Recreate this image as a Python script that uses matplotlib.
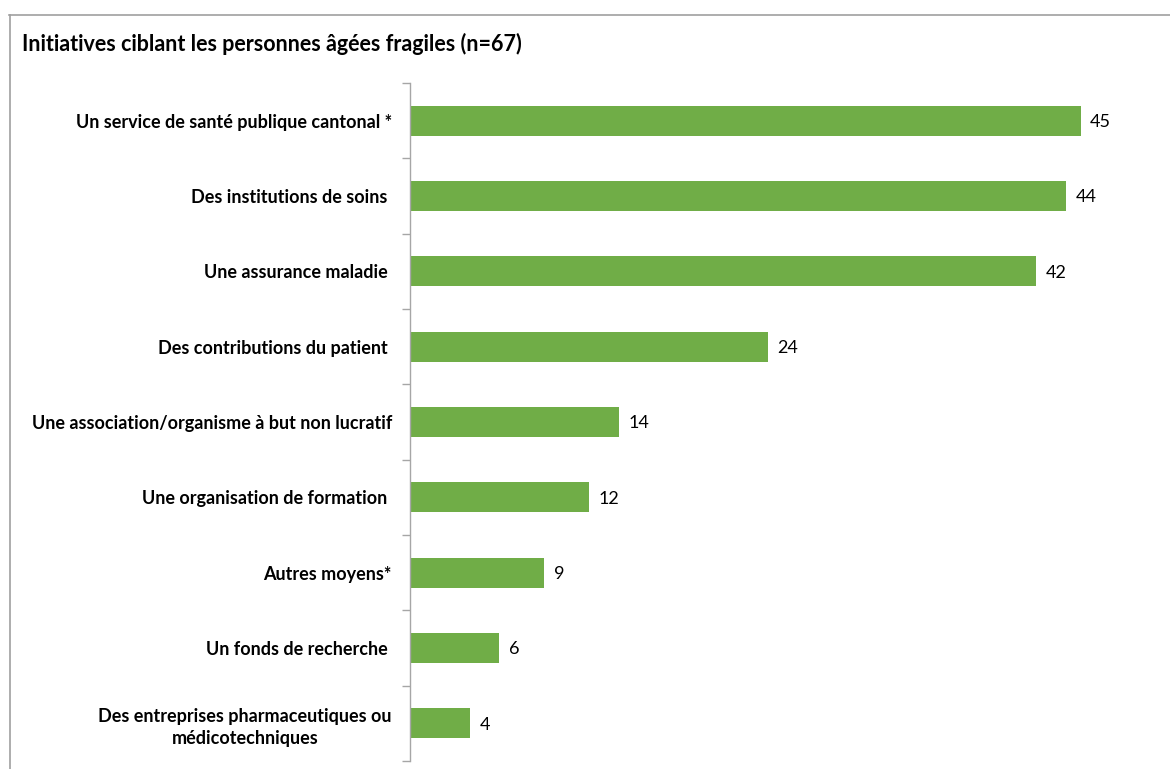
import matplotlib
matplotlib.use("Agg")
import matplotlib.pyplot as plt
from matplotlib.lines import Line2D

plt.rcParams['font.family'] = ['Lato', 'DejaVu Sans']

title = "Initiatives ciblant les personnes âgées fragiles (n=67)"
categories = [
    "Un service de santé publique cantonal *",
    "Des institutions de soins ",
    "Une assurance maladie ",
    "Des contributions du patient ",
    "Une association/organisme à but non lucratif",
    "Une organisation de formation ",
    "Autres moyens*",
    "Un fonds de recherche ",
    "Des entreprises pharmaceutiques ou\nmédicotechniques",
]
values = [45, 44, 42, 24, 14, 12, 9, 6, 4]

W, H = 1170, 769
fig = plt.figure(figsize=(W / 100, H / 100), dpi=100)
ax = fig.add_axes([410 / W, 1 - 761 / H, (1155 - 410) / W, (761 - 83) / H])

n = len(categories)
ypos = list(range(n))
ax.barh(ypos, values, height=0.4, color="#70AD47", zorder=2)
ax.set_ylim(n - 0.5, -0.5)
ax.set_xlim(0, 50)

for y, v in zip(ypos, values):
    ax.text(v + 0.65, y, str(v), va="center_baseline", ha="left",
            fontsize=13, color="#000000")

ax.set_yticks(ypos)
ax.set_yticklabels(categories, fontsize=13, fontweight="bold",
                   multialignment="center", linespacing=1.4)
ax.set_yticks([i - 0.5 for i in range(n + 1)], minor=True)
ax.tick_params(axis="y", which="major", length=0, pad=13)
ax.tick_params(axis="y", which="minor", length=6, color="#A6A6A6", width=1)
ax.set_xticks([])
for s in ["top", "right", "bottom"]:
    ax.spines[s].set_visible(False)
ax.spines["left"].set_color("#A6A6A6")
ax.spines["left"].set_linewidth(1)

fig.text(22 / W, 1 - 44 / H, title, fontsize=15.5, fontweight="bold",
         ha="left", va="center", color="#000000")

# outer frame of the chart area
fig.add_artist(Line2D([9 / W, 1.0], [1 - 15 / H, 1 - 15 / H], transform=fig.transFigure,
                      color="#A0A0A0", linewidth=1.2))
fig.add_artist(Line2D([10 / W, 10 / W], [0, 1 - 15 / H], transform=fig.transFigure,
                      color="#A0A0A0", linewidth=1.2))

fig.savefig("out.png", dpi=100)
